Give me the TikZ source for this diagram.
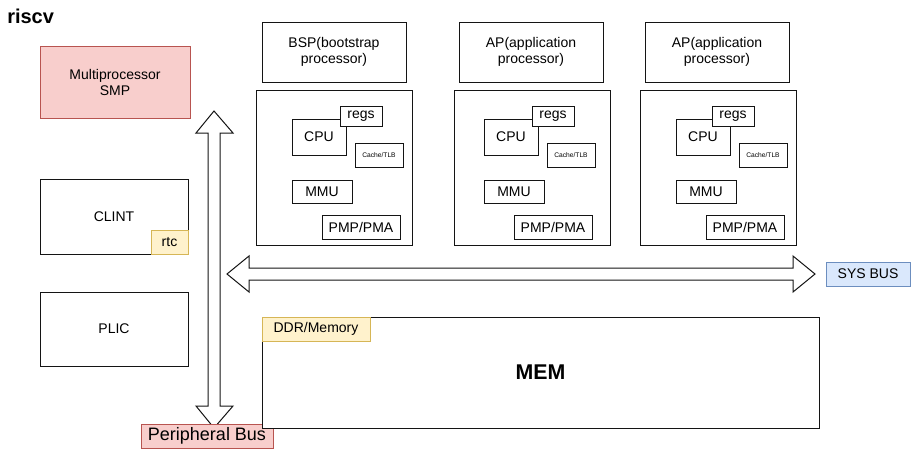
\documentclass[tikz,border=0pt]{standalone}
\usepackage{fontspec}
\setmainfont{Liberation Sans}
\definecolor{redfill}{RGB}{248,206,204}
\definecolor{redline}{RGB}{184,84,80}
\definecolor{yelfill}{RGB}{255,242,204}
\definecolor{yelline}{RGB}{214,182,86}
\definecolor{bluefill}{RGB}{218,232,252}
\definecolor{blueline}{RGB}{108,142,191}
\definecolor{inkline}{RGB}{20,20,20}
\tikzset{
  box/.style={draw=inkline, fill=white, line width=0.75pt, inner sep=0pt, align=center, font=\fontsize{10.5}{12}\selectfont},
  tag/.style={box, minimum width=31.5pt, minimum height=15pt},
  cachebox/.style={box, minimum width=36pt, minimum height=18pt, font=\fontsize{5}{6}\selectfont},
  redbox/.style={box, draw=redline, fill=redfill},
  yelbox/.style={box, draw=yelline, fill=yelfill},
  bluebox/.style={box, draw=blueline, fill=bluefill},
  bigarrow/.style={draw=inkline, fill=white, line width=0.75pt, line join=miter}
}

\begin{document}
\begin{tikzpicture}[x=0.75pt,y=0.75pt,yscale=-1,xscale=1]
\useasboundingbox (0,0) rectangle (916,471);

% Title
\node (title) at (7,16) [anchor=west, inner sep=0pt, font=\fontsize{15}{18}\selectfont\bfseries] {riscv};

%Shape: left column
\node (smp) at (115,82) [redbox, minimum width=112.5pt, minimum height=54pt] {Multiprocessor\\SMP};
\node (clint) at (114,216.5) [box, minimum width=111pt, minimum height=56.25pt] {CLINT};
\node (rtc) at (169.5,242) [yelbox, minimum width=27.75pt, minimum height=18pt] {rtc};
\node (plic) at (114,329) [box, minimum width=111pt, minimum height=55.5pt] {PLIC};

%Shape: vertical double arrow (peripheral bus)
\draw [bigarrow] (214,111) -- (233,133) -- (220,133) -- (220,406) -- (233,406) -- (214,428) -- (196,406) -- (208,406) -- (208,133) -- (196,133) -- cycle;
\node (pbus) at (207,436) [redbox, minimum width=99pt, minimum height=18pt, font=\fontsize{13.5}{16}\selectfont] {Peripheral Bus};

%Shape: BSP
\node (bsp) at (334,52) [box, minimum width=108pt, minimum height=45pt] {BSP(bootstrap\\processor)};
\node (bspcore) at (334,167.5) [box, minimum width=117pt, minimum height=116.25pt] {};
\node (cpua) at (319,137) [box, minimum width=40.5pt, minimum height=27pt] {CPU};
\node (regsa) at (361,116) [tag] {regs};
\node (cachea) at (379,155) [cachebox] {Cache/TLB};
\node (mmua) at (322,191.5) [box, minimum width=45pt, minimum height=17.25pt] {MMU};
\node (pmpa) at (361,227) [box, minimum width=58.5pt, minimum height=18pt] {PMP/PMA};

%Shape: AP 1
\node (apb) at (531,52) [box, minimum width=108pt, minimum height=45pt] {AP(application\\processor)};
\node (apbcore) at (532,167.5) [box, minimum width=117pt, minimum height=116.25pt] {};
\node (cpub) at (511,137) [box, minimum width=40.5pt, minimum height=27pt] {CPU};
\node (regsb) at (553,116) [tag] {regs};
\node (cacheb) at (571,155) [cachebox] {Cache/TLB};
\node (mmub) at (514,191.5) [box, minimum width=45pt, minimum height=17.25pt] {MMU};
\node (pmpb) at (553,227) [box, minimum width=58.5pt, minimum height=18pt] {PMP/PMA};

%Shape: AP 2
\node (apc) at (717,52) [box, minimum width=108pt, minimum height=45pt] {AP(application\\processor)};
\node (apccore) at (718,167.5) [box, minimum width=117pt, minimum height=116.25pt] {};
\node (cpuc) at (703,137) [box, minimum width=40.5pt, minimum height=27pt] {CPU};
\node (regsc) at (733,116) [tag] {regs};
\node (cachec) at (763,155) [cachebox] {Cache/TLB};
\node (mmuc) at (706,191.5) [box, minimum width=45pt, minimum height=17.25pt] {MMU};
\node (pmpc) at (745,227) [box, minimum width=58.5pt, minimum height=18pt] {PMP/PMA};

%Shape: horizontal double arrow (system bus)
\draw [bigarrow] (227,274) -- (249,256) -- (249,268) -- (793,268) -- (793,256) -- (815,274) -- (793,292) -- (793,280) -- (249,280) -- (249,292) -- cycle;
\node (sysbus) at (868,274) [bluebox, minimum width=63pt, minimum height=18pt] {SYS BUS};

%Shape: memory
\node (mem) at (540.5,372.5) [box, minimum width=417.75pt, minimum height=83.25pt, font=\fontsize{16}{19}\selectfont\bfseries] {MEM};
\node (ddr) at (316,329) [yelbox, minimum width=81pt, minimum height=18pt] {DDR/Memory};

\end{tikzpicture}
\end{document}
